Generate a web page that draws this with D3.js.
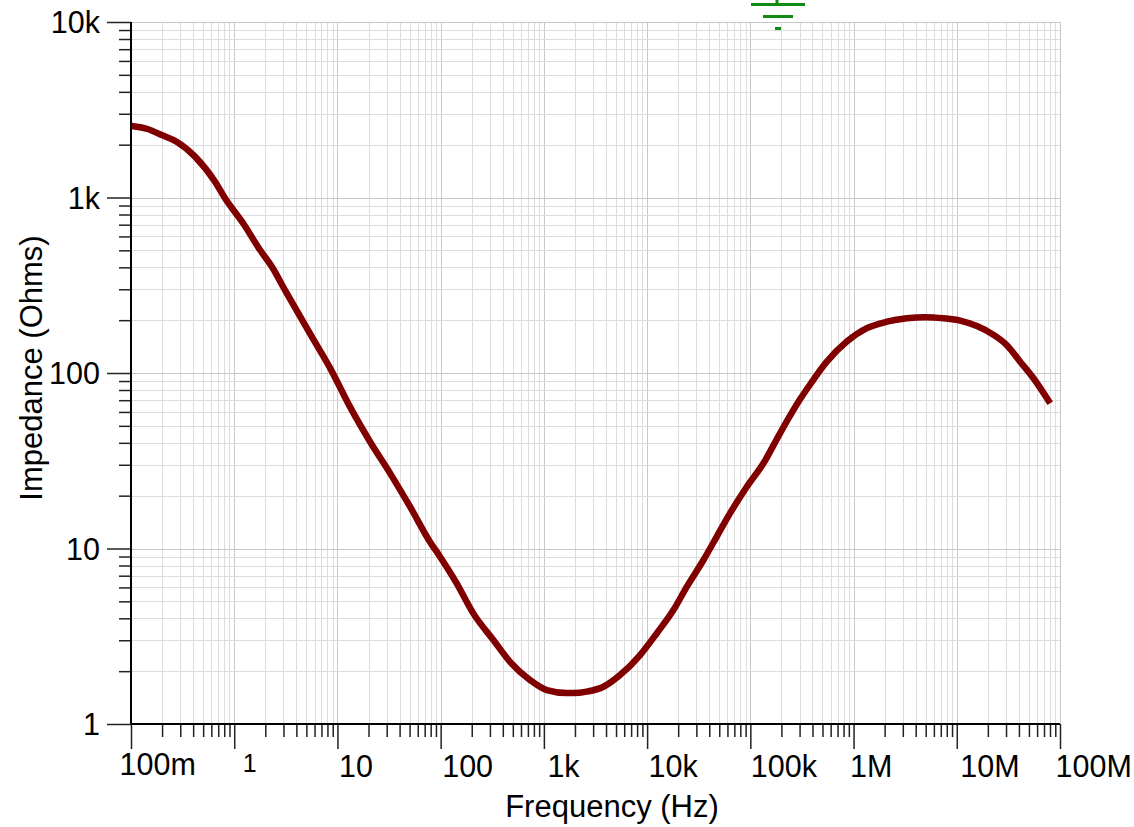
<!DOCTYPE html>
<html><head><meta charset="utf-8">
<script src="https://cdn.jsdelivr.net/npm/d3@7"></script>
<style>
body{margin:0;background:#fff}
svg{display:block}
text{font-family:"Liberation Sans",Arial,sans-serif;fill:#000}
</style>
</head><body>
<svg id="c" width="1134" height="827"></svg>
<script>
// ---- data ----
const frequency = [0.1016,0.147,0.198,0.277,0.417,0.652,0.815,1.22,1.78,2.31,3.10,4.18,5.64,8.47,13.2,20.7,32.4,50.5,78.9,98.6,143,207,324,470,735,1067,1667,1932,2606,3776,5470,8551,12420,17990,24270,35160,47320,63680,92470,134000,194500,304000,379000,551000,861000,1346000,2104000,3289000,4943000,7430000,10790000,15670000,22700000,30550000,41110000,55340000,80350000];
const impedance = [2555,2448,2270,2080,1710,1230,990,713,502,404,297,219,161,107,64.3,40.6,26.8,17.3,10.9,8.98,6.33,4.27,3.01,2.26,1.78,1.56,1.50,1.50,1.53,1.63,1.90,2.47,3.29,4.46,6.06,8.60,11.7,15.9,22.5,30.6,45.5,71.0,86.0,116,151,180,196,205,208,205,199,185,165,144,116,93.3,67.2];
const xTickValues = [0.1,1,10,100,1e3,1e4,1e5,1e6,1e7,1e8];
const xTickLabels = ["100m","1","10","100","1k","10k","100k","1M","10M","100M"];
const yTickValues = [1,10,100,1e3,1e4];
const yTickLabels = ["1","10","100","1k","10k"];
const xTitle = "Frequency (Hz)";
const yTitle = "Impedance (Ohms)";

// ---- layout ----
const L = 131, R = 1060, T = 22, B = 724;
const FS = 30.5;
const svg = d3.select("#c");
const x = d3.scaleLog().domain([0.1, 1e8]).range([L, R]);
const y = d3.scaleLog().domain([1, 1e4]).range([B, T]);

const isMajor = v => Math.abs(Math.log10(v) - Math.round(Math.log10(v))) < 1e-9;
const xAll = x.ticks();
const yAll = y.ticks();
const xMinor = xAll.filter(v => !isMajor(v));
const yMinor = yAll.filter(v => !isMajor(v));

// grid
const grid = svg.append("g");
grid.selectAll("line.vx").data(xAll).join("line")
  .attr("x1", d => Math.round(x(d)) + 0.5).attr("x2", d => Math.round(x(d)) + 0.5)
  .attr("y1", T).attr("y2", B)
  .attr("stroke", d => isMajor(d) ? "#c8c8c8" : "#dcdcdc").attr("stroke-width", 1);
grid.selectAll("line.hy").data(yAll).join("line")
  .attr("y1", d => Math.round(y(d)) + 0.5).attr("y2", d => Math.round(y(d)) + 0.5)
  .attr("x1", L).attr("x2", R)
  .attr("stroke", d => isMajor(d) ? "#c8c8c8" : "#dcdcdc").attr("stroke-width", 1);

// curve
const line = d3.line().x((d, i) => x(frequency[i])).y((d, i) => y(impedance[i])).curve(d3.curveMonotoneX);
svg.append("path").attr("d", line(frequency))
  .attr("fill", "none").attr("stroke", "#800000").attr("stroke-width", 6.5)
  .attr("stroke-linejoin", "round");

// axes: minor ticks
const gxMinor = svg.append("g").attr("transform", `translate(0,${B})`)
  .call(d3.axisBottom(x).tickValues(xMinor).tickSize(13).tickSizeOuter(0).tickFormat(""));
const gyMinor = svg.append("g").attr("transform", `translate(${L},0)`)
  .call(d3.axisLeft(y).tickValues(yMinor).tickSize(12).tickSizeOuter(0).tickFormat(""));
// major ticks + labels
const gx = svg.append("g").attr("transform", `translate(0,${B})`)
  .call(d3.axisBottom(x).tickValues(xTickValues).tickSize(25).tickSizeOuter(0)
    .tickFormat((d, i) => xTickLabels[i]));
const gy = svg.append("g").attr("transform", `translate(${L},0)`)
  .call(d3.axisLeft(y).tickValues(yTickValues).tickSize(24).tickSizeOuter(0)
    .tickFormat((d, i) => yTickLabels[i]));
[gxMinor, gyMinor, gx, gy].forEach(g => {
  g.select(".domain").remove();
  g.selectAll(".tick line").attr("stroke", "#222").attr("stroke-width", 1.5);
});
gx.selectAll(".tick text")
  .attr("font-size", (d, i) => i === 1 ? 25 : FS)
  .attr("text-anchor", "start")
  .attr("y", 0).attr("dy", 0)
  .attr("transform", (d, i) => {
    const dxs = [-12, 8, 1, 1, 3, 1, 0, -4, 3, -5];
    const ys = [51, 48, 53, 53, 53, 53, 53, 53, 53, 53];
    return `translate(${dxs[i]},${ys[i]})`;
  });
gy.selectAll(".tick text")
  .attr("font-size", FS).attr("x", -31).attr("dy", "0.35em");

// axis lines
svg.append("line").attr("x1", L).attr("x2", L).attr("y1", T).attr("y2", B)
  .attr("stroke", "#000").attr("stroke-width", 2);
svg.append("line").attr("x1", L).attr("x2", R).attr("y1", B).attr("y2", B)
  .attr("stroke", "#000").attr("stroke-width", 2);

// titles
svg.append("text").attr("x", 612).attr("y", 817).attr("text-anchor", "middle")
  .attr("font-size", FS + 0.5).text(xTitle);
svg.append("text").attr("transform", "translate(42,368) rotate(-90)").attr("text-anchor", "middle")
  .attr("font-size", FS + 0.5).text(yTitle);

// green ground marker at top
const gnd = svg.append("g").attr("stroke", "#128a12").attr("fill", "none");
gnd.append("line").attr("x1", 777).attr("x2", 777).attr("y1", 0).attr("y2", 4).attr("stroke-width", 3);
gnd.append("line").attr("x1", 751).attr("x2", 805).attr("y1", 4.5).attr("y2", 4.5).attr("stroke-width", 3);
gnd.append("line").attr("x1", 763).attr("x2", 793).attr("y1", 16.5).attr("y2", 16.5).attr("stroke-width", 3);
gnd.append("line").attr("x1", 775).attr("x2", 781).attr("y1", 28.5).attr("y2", 28.5).attr("stroke-width", 3);
</script>
</body></html>
